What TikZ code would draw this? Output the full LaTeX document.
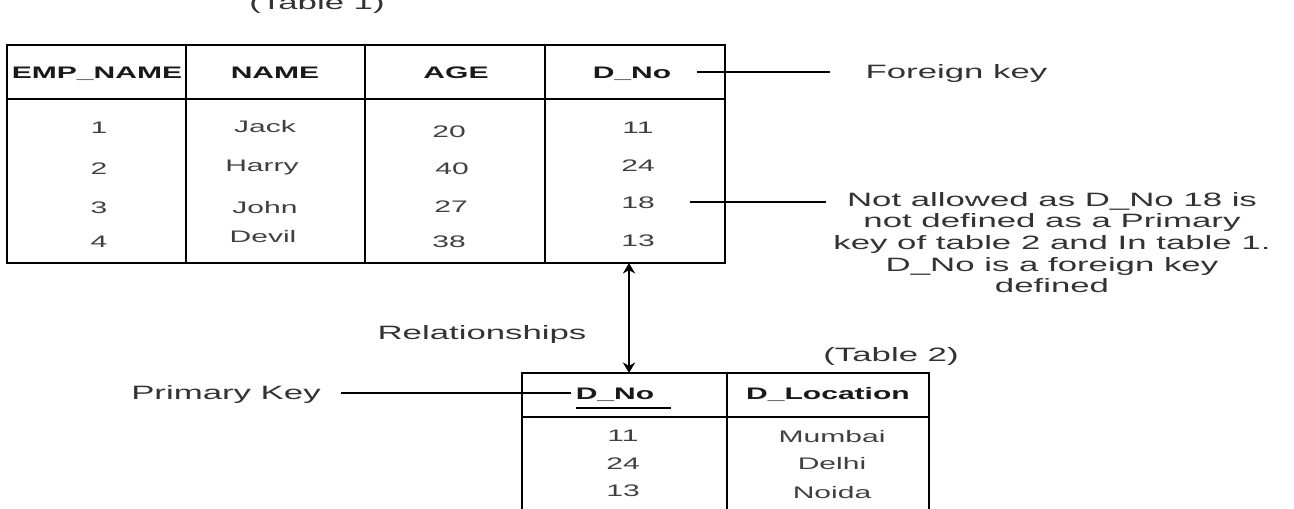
\documentclass[tikz,border=0pt]{standalone}
\usepackage{fontspec}
\setmainfont{Liberation Sans}
\usetikzlibrary{calc,arrows.meta}

\tikzset{
    tbl/.style={line width=1.1pt},
    conn/.style={line width=0.8pt},
    lbl/.style={font=\fontsize{11}{12.3}\selectfont, text=black!80, inner sep=0pt,
        text height=1.38ex, text depth=0pt, xscale=1.8, transform shape},
    cell/.style={font=\fontsize{9.5}{11}\selectfont, text=black!75, inner sep=0pt,
        text height=1.38ex, text depth=0pt, xscale=1.8, transform shape},
    hdr/.style={font=\bfseries\fontsize{9.5}{11}\selectfont, text=black!90, inner sep=0pt,
        text height=1.38ex, text depth=0pt, xscale=1.8, transform shape},
}

\begin{document}
\begin{tikzpicture}[x=0.02cm, y=-0.02cm]
    \useasboundingbox (0,0) rectangle (1294,509);

    % Draw table 1
    \draw[tbl] (7,45) rectangle (725,263);
    \draw[tbl] (7,99) -- (725,99);
    \foreach \xx in {186,365,545}
        \draw[tbl] (\xx,45) -- (\xx,263);
    \node[lbl] (tab1) at (317,3) {(Table 1)};

    % Header row of table 1
    \node[hdr] (hemp) at (97,72) {EMP\_NAME};
    \node[hdr] (hname) at (275,72) {NAME};
    \node[hdr] (hage) at (456,72) {AGE};
    \node[hdr] (hdno) at (632,72) {D\_No};

    % Rows of table 1
    \node[cell] (e1) at (99,127) {1};
    \node[cell] (e2) at (99,168) {2};
    \node[cell] (e3) at (99,207) {3};
    \node[cell] (e4) at (99,241) {4};
    \node[cell] (n1) at (265,126) {Jack};
    \node[cell] (n2) at (262,165) {Harry};
    \node[cell] (n3) at (265,207) {John};
    \node[cell] (n4) at (263,236) {Devil};
    \node[cell] (a1) at (449,131) {20};
    \node[cell] (a2) at (452,168) {40};
    \node[cell] (a3) at (451,206) {27};
    \node[cell] (a4) at (449,241) {38};
    \node[cell] (d1) at (638,127) {11};
    \node[cell] (d2) at (638,165) {24};
    \node[cell] (d3) at (638,202) {18};
    \node[cell] (d4) at (638,240) {13};

    % Draw table 2
    \draw[tbl] (522,520) -- (522,373) -- (929,373) -- (929,520);
    \draw[tbl] (522,417) -- (929,417);
    \draw[tbl] (727,373) -- (727,520);
    \node[lbl] (tab2) at (891,355) {(Table 2)};
    \node[hdr] (kdno) at (615,393) {D\_No};
    \node[hdr] (kloc) at (828,393) {D\_Location};
    \draw[line width=1.4pt] ($(kdno.south west)+(1,8)$) -- ($(kdno.south east)+(16,8)$);
    \node[cell] (k1) at (623,435) {11};
    \node[cell] (k2) at (623,463) {24};
    \node[cell] (k3) at (623,490) {13};
    \node[cell] (l1) at (832,436) {Mumbai};
    \node[cell] (l2) at (832,463) {Delhi};
    \node[cell] (l3) at (832,492) {Noida};

    % Labels and pointers
    \node[lbl, anchor=west] (fkey) at (865,72) {Foreign key};
    \draw[conn] ($(hdno.east)+(25,0)$) -- ($(fkey.west)+(-35,0)$);
    \node[lbl, align=center, anchor=north, text height=, text depth=] (note) at (1052,192)
        {Not allowed as D\_No 18 is\\ not defined as a Primary\\ key of table 2 and In table 1.\\ D\_No is a foreign key\\ defined};
    \draw[conn] ($(d3.east)+(35,0)$) -- ($(d3.east -| note.west)+(-7,0)$);
    \node[lbl] (pkey) at (226,393) {Primary Key};
    \draw[conn] ($(pkey.east)+(20,0)$) -- ($(kdno.west)+(-4,0)$);

    % Relationship between the two tables
    \coordinate (t1foot) at (629,263);
    \coordinate (t2head) at (629,373);
    \draw[tbl, {Stealth[length=6pt,width=7pt]}-{Stealth[length=6pt,width=7pt]}] (t1foot) -- (t2head);
    \node[lbl] (rel) at (482,333) {Relationships};
\end{tikzpicture}
\end{document}
